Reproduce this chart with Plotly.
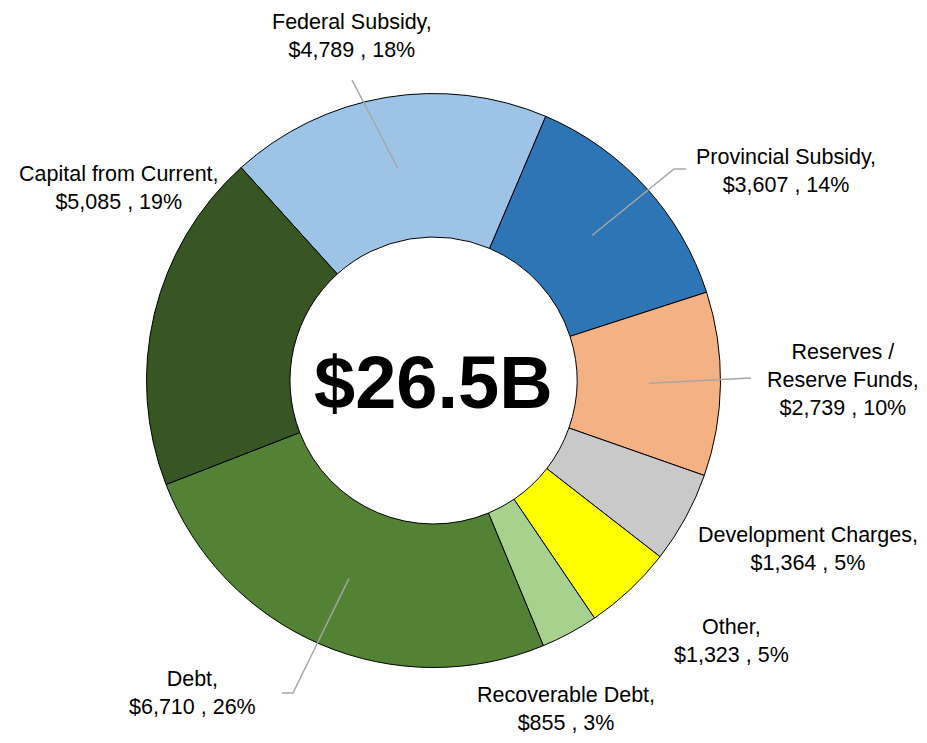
import math
import plotly.graph_objects as go

# ---- data ----
categories = ["Federal Subsidy", "Provincial Subsidy", "Reserves /<br>Reserve Funds",
              "Development Charges", "Other", "Recoverable Debt", "Debt",
              "Capital from Current"]
values = [4789, 3607, 2739, 1364, 1323, 855, 6710, 5085]
value_labels = ["$4,789", "$3,607", "$2,739", "$1,364", "$1,323", "$855", "$6,710", "$5,085"]
pct_labels = ["18%", "14%", "10%", "5%", "5%", "3%", "26%", "19%"]
center_label = "$26.5B"

# ---- styles / layout ----
colors = ["#9DC3E6", "#2E75B6", "#F4B183", "#C9C9C9", "#FFFF00", "#A9D18E", "#548235", "#375623"]
OFF = 8                      # page body margin of the html page
W, H = 927 - 2 * OFF, 743 - 2 * OFF
CX, CY, R = 433.5, 380.5, 287.0   # target pixel geometry in the window
HOLE = 0.5
ROTATION = -42.1
FONT = "Liberation Sans, Arial, sans-serif"

# label block centers (window pixels)
label_pos = [(352, 36), (786, 171), (843, 380), (808, 549), (731, 641), (566, 709), (192, 693), (119, 188)]
# leader line bend/end points (window pixels), None = no leader
leader_pts = [[(352, 80)], [(674, 169), (686, 169)], [(751, 378)], None, None, None,
              [(293, 693), (282, 693)], None]


def px(x):
    return (x - OFF) / W


def py(y):
    return 1 - (y - OFF) / H


fig = go.Figure(go.Pie(
    labels=categories,
    values=values,
    sort=False,
    direction="clockwise",
    rotation=ROTATION,
    hole=HOLE,
    marker=dict(colors=colors, line=dict(color="black", width=1)),
    textinfo="none",
    hoverinfo="label+value+percent",
    domain=dict(x=[px(CX - R), px(CX + R)], y=[py(CY + R), py(CY - R)]),
    showlegend=False,
))

annotations = []
shapes = []
total = sum(values)
cum = 0
mid_r = R * (1 + HOLE) / 2
for i, v in enumerate(values):
    mid = math.radians(ROTATION + (cum + v / 2) / total * 360)
    cum += v
    lx, ly = label_pos[i]
    annotations.append(dict(
        x=px(lx), y=py(ly), xref="paper", yref="paper",
        text=f"{categories[i]},<br>{value_labels[i]} , {pct_labels[i]}",
        showarrow=False, xanchor="center", yanchor="middle", align="center",
        font=dict(family=FONT, size=21.5, color="black"),
    ))
    if leader_pts[i]:
        sx = CX + mid_r * math.sin(mid)
        sy = CY - mid_r * math.cos(mid)
        pts = [(sx, sy)] + leader_pts[i]
        path = "M " + " L ".join(f"{px(x)},{py(y)}" for x, y in pts)
        shapes.append(dict(type="path", path=path, xref="paper", yref="paper",
                           line=dict(color="#A6A6A6", width=1.5)))

annotations.append(dict(
    x=px(CX), y=py(CY + 2), xref="paper", yref="paper", text=center_label,
    showarrow=False, xanchor="center", yanchor="middle",
    font=dict(family=FONT, size=74, color="black", weight="bold"),
))

fig.update_layout(
    width=W, height=H,
    margin=dict(l=0, r=0, t=0, b=0),
    paper_bgcolor="white", plot_bgcolor="white",
    annotations=annotations, shapes=shapes,
)

fig.write_html("out.html")
